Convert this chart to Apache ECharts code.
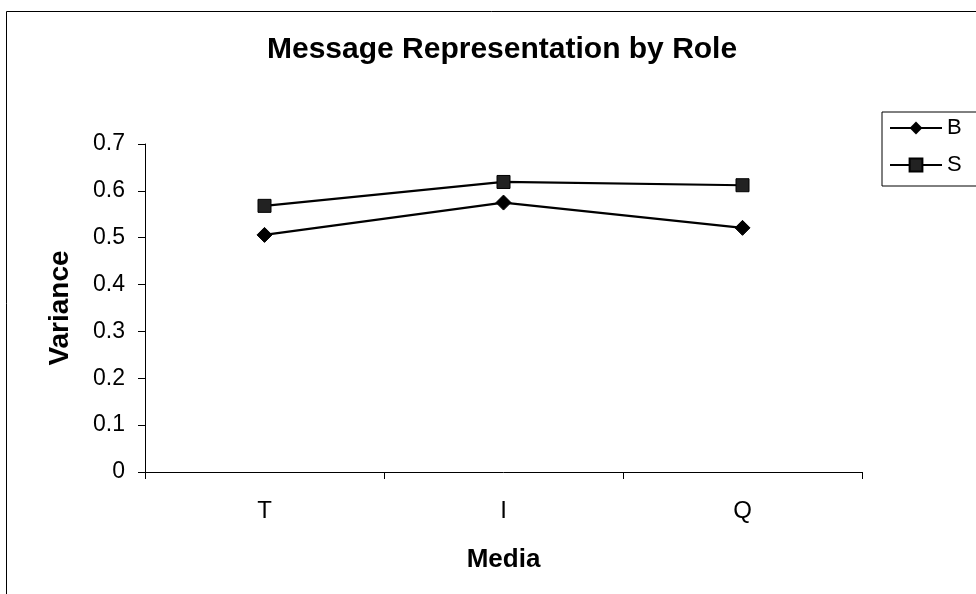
<!DOCTYPE html>
<html>
<head>
<meta charset="utf-8">
<script src="https://cdn.jsdelivr.net/npm/echarts@6/dist/echarts.min.js"></script>
<style>
html,body{margin:0;padding:0;background:#fff;}
#chart{width:976px;height:594px;}
</style>
</head>
<body>
<div id="chart"></div>
<script>
var categories = ['T', 'I', 'Q'];
var seriesB = [0.506, 0.575, 0.521];
var seriesS = [0.568, 0.619, 0.612];
var yTicks = [0, 0.1, 0.2, 0.3, 0.4, 0.5, 0.6, 0.7];

var FONT = '"Liberation Sans", Arial, sans-serif';
var chart = echarts.init(document.getElementById('chart'));
chart.setOption({
  backgroundColor: '#fff',
  animation: false,
  graphic: [{
    type: 'rect', left: 4, top: 9,
    shape: { width: 990, height: 600 },
    style: { fill: 'none', stroke: '#000', lineWidth: 1 }
  }],
  title: {
    text: 'Message Representation by Role',
    left: 262, top: 30,
    textStyle: { fontFamily: FONT, fontSize: 30, fontWeight: 'bold', color: '#000' }
  },
  legend: {
    orient: 'vertical',
    left: 882, top: 112,
    padding: [5, 40, 10, 7],
    borderColor: '#000', borderWidth: 1,
    itemWidth: 52, itemHeight: 16, itemGap: 15,
    textStyle: { fontFamily: FONT, fontSize: 22, color: '#000' },
    data: ['B', 'S']
  },
  grid: { left: 145, right: 114, top: 144, bottom: 122 },
  xAxis: {
    type: 'category',
    data: categories,
    boundaryGap: true,
    name: 'Media', nameLocation: 'middle', nameGap: 75,
    nameTextStyle: { fontFamily: FONT, fontSize: 26, fontWeight: 'bold', color: '#000' },
    axisLine: { lineStyle: { color: '#000', width: 1 } },
    axisTick: { show: true, length: 7, lineStyle: { color: '#000' } },
    axisLabel: { margin: 27, fontFamily: FONT, fontSize: 24, color: '#000' },
    splitLine: { show: false }
  },
  yAxis: {
    type: 'value',
    min: yTicks[0], max: yTicks[yTicks.length - 1], interval: 0.1,
    name: 'Variance', nameLocation: 'middle', nameGap: 71, nameRotate: 90,
    nameTextStyle: { fontFamily: FONT, fontSize: 28, fontWeight: 'bold', color: '#000' },
    axisLine: { show: true, lineStyle: { color: '#000', width: 1 } },
    axisTick: { show: true, length: 7, lineStyle: { color: '#000' } },
    axisLabel: { margin: 20, fontFamily: FONT, fontSize: 23, color: '#000',
      formatter: function (v) { return String(Math.round(v * 10) / 10); } },
    splitLine: { show: false }
  },
  series: [
    {
      name: 'B', type: 'line', data: seriesB,
      symbol: 'diamond', symbolSize: 15,
      lineStyle: { color: '#000', width: 2.2 },
      itemStyle: { color: '#000', borderColor: '#000' }
    },
    {
      name: 'S', type: 'line', data: seriesS,
      symbol: 'rect', symbolSize: 13,
      lineStyle: { color: '#000', width: 2.2 },
      itemStyle: { color: '#222', borderColor: '#000', borderWidth: 1 }
    }
  ]
});
</script>
</body>
</html>
